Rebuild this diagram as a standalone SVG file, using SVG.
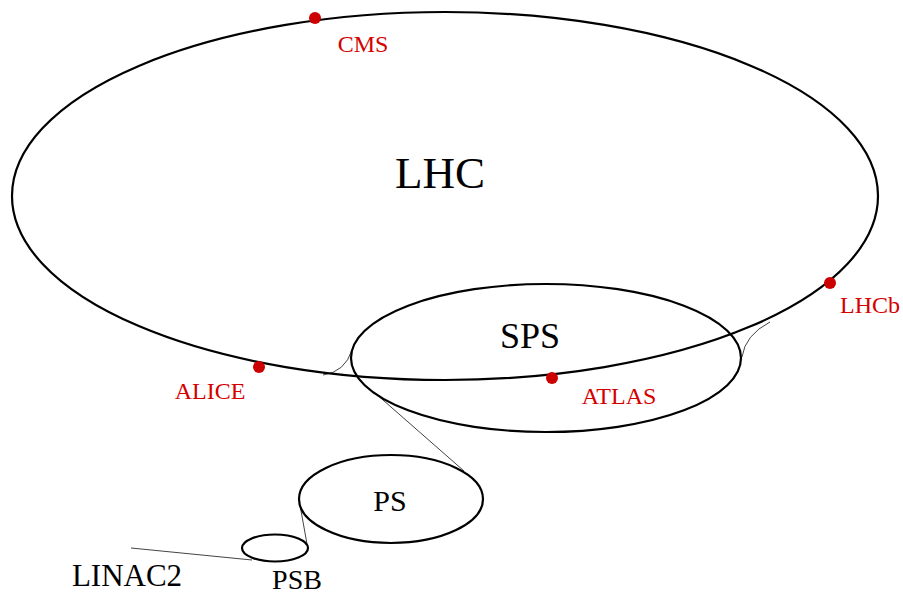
<svg xmlns="http://www.w3.org/2000/svg" width="903" height="596" viewBox="0 0 903 596">
<style>
.ring{fill:none;stroke:#000;stroke-width:2.2}
.thin{fill:none;stroke:#444;stroke-width:1}
.lbl{font-family:"Liberation Serif",serif;fill:#000;text-anchor:middle}
.red{font-family:"Liberation Serif",serif;fill:#d40000;text-anchor:middle;font-size:24px}
.dot{fill:#cc0000}
</style>
<rect width="903" height="596" fill="#fff"/>
<g id="connectors">
<path class="thin" d="M323,375 Q345,372 352,350"/>
<path class="thin" d="M770,322 Q745,335 742,357"/>
<line class="thin" x1="375" y1="393" x2="464" y2="471"/>
<line class="thin" x1="307" y1="544" x2="300" y2="505"/>
<line class="thin" x1="131" y1="548" x2="252" y2="560"/>
</g>
<g id="LHC">
<ellipse class="ring" cx="445" cy="196" rx="433" ry="184"/>
<text class="lbl" x="440" y="188" font-size="45">LHC</text>
</g>
<g id="SPS">
<ellipse class="ring" cx="546" cy="358" rx="195" ry="74"/>
<text class="lbl" x="530" y="348" font-size="36">SPS</text>
</g>
<g id="PS">
<ellipse class="ring" cx="391" cy="499" rx="92" ry="44"/>
<text class="lbl" x="390" y="511" font-size="30">PS</text>
</g>
<g id="PSB">
<ellipse class="ring" cx="275" cy="548" rx="33" ry="13.5"/>
<text class="lbl" x="297" y="589" font-size="28">PSB</text>
</g>
<g id="LINAC2">
<text class="lbl" x="127" y="586" font-size="31">LINAC2</text>
</g>
<g id="CMS">
<circle class="dot" cx="315" cy="18" r="6"/>
<text class="red" x="363" y="52">CMS</text>
</g>
<g id="LHCb">
<circle class="dot" cx="830" cy="283" r="6"/>
<text class="red" x="870" y="313">LHCb</text>
</g>
<g id="ALICE">
<circle class="dot" cx="259" cy="367" r="6"/>
<text class="red" x="210" y="399">ALICE</text>
</g>
<g id="ATLAS">
<circle class="dot" cx="552" cy="378" r="6"/>
<text class="red" x="619" y="404">ATLAS</text>
</g>
</svg>
